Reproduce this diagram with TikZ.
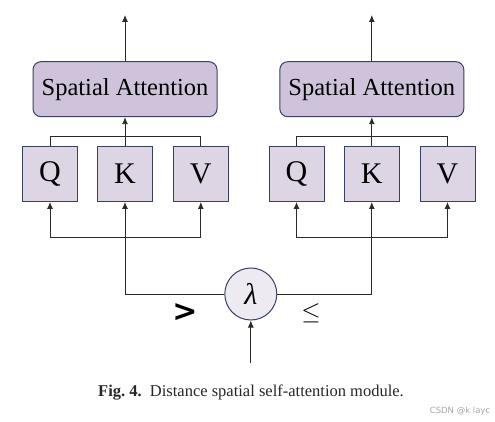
\documentclass[tikz,border=0pt]{standalone}
\usepackage{amsmath}
\usepackage[no-math]{fontspec}
\setmainfont{Liberation Serif}
\newfontfamily\symfont{DejaVu Sans}
\usetikzlibrary{arrows.meta}
\definecolor{attfill}{HTML}{CFC3DB}
\definecolor{qkvfill}{HTML}{DDD4E4}
\definecolor{lamfill}{HTML}{EEEAF2}
\definecolor{edge}{HTML}{3A3F66}
\definecolor{wire}{HTML}{2A2A2A}

\begin{document}
\begin{tikzpicture}[x=1pt, y=-1pt,
  att/.style={rectangle, rounded corners=8pt, draw=edge, fill=attfill, line width=1pt, minimum width=184pt, minimum height=55pt, inner sep=0pt, font=\fontsize{24.5}{28}\selectfont},
  qkv/.style={rectangle, draw=edge, fill=qkvfill, line width=1pt, minimum size=55pt, inner sep=0pt, font=\fontsize{30}{32}\selectfont},
  lam/.style={circle, draw=edge, fill=lamfill, line width=1pt, minimum size=52pt, inner sep=0pt, font=\fontsize{30}{30}\selectfont},
  wire/.style={draw=wire, line width=0.9pt},
  arr/.style={wire, -{Latex[length=7pt, width=6pt]}}]
  \useasboundingbox (0,0) rectangle (495,422);
  % left branch
  \node[att] (attL) at (125, 89.2) {Spatial Attention};
  \node[qkv] (QL) at (50, 174) {Q};
  \node[qkv] (KL) at (125, 174) {K};
  \node[qkv] (VL) at (200.8, 174) {V};
  \coordinate (outL) at (125, 15);
  \coordinate (jL) at (125, 136.7);
  \coordinate (bL) at (125, 237.3);
  % right branch
  \node[att] (attR) at (371.8, 89.2) {Spatial Attention};
  \node[qkv] (QR) at (296.5, 174) {Q};
  \node[qkv] (KR) at (371.8, 174) {K};
  \node[qkv] (VR) at (447.5, 174) {V};
  \coordinate (outR) at (371.8, 15);
  \coordinate (jR) at (371.8, 136.7);
  \coordinate (bR) at (371.8, 237.3);
  % threshold
  \node[lam] (lam) at (250.8, 294) {\itshape λ};
  \coordinate (inp) at (250.8, 363);
  \node[font=\symfont\bfseries\fontsize{30}{30}\selectfont] (gt) at (185, 313) {>};
  \node[font=\fontsize{30}{30}\selectfont] (le) at (311, 313) {$\leq$};
  % connectors
  \draw[arr] (attL) -- (outL);
  \draw[arr] (attR) -- (outR);
  \draw[wire] (QL.north) |- (jL) -| (VL.north);
  \draw[wire] (QR.north) |- (jR) -| (VR.north);
  \draw[arr] (KL.north) -- (attL.south);
  \draw[arr] (KR.north) -- (attR.south);
  \draw[arr] (bL) -| (QL.south);
  \draw[arr] (bL) -| (VL.south);
  \draw[arr] (bR) -| (QR.south);
  \draw[arr] (bR) -| (VR.south);
  \draw[arr] (lam.west) -| (KL.south);
  \draw[arr] (lam.east) -| (KR.south);
  \draw[arr] (inp) -- (lam.south);
  % caption
  \node[font=\fontsize{16.5}{19}\selectfont, text=black!85] (cap) at (251, 393) {\textbf{Fig.~4.}\enspace Distance spatial self-attention module.};
  \node[font=\symfont\fontsize{8.5}{10}\selectfont, text=black!35] (wm) at (460, 411) {CSDN @k layc};
\end{tikzpicture}
\end{document}
